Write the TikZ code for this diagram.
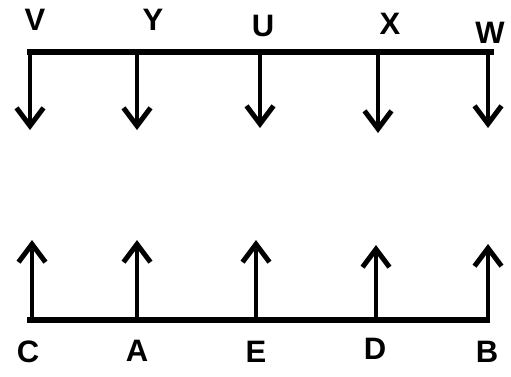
\documentclass[tikz,border=0pt]{standalone}
\usepackage{fontspec}
\setmainfont{Liberation Sans}
\usetikzlibrary{arrows.meta}
\begin{document}
\begin{tikzpicture}[x=1pt,y=-1pt,
  lbl/.style={font=\fontsize{31}{34}\selectfont\bfseries, inner sep=0pt},
  bar/.style={line width=5.5pt},
  arr/.style={line width=4.5pt, -{Straight Barb[length=18pt,width=27pt,line width=5pt]}}]
\useasboundingbox (0,0) rectangle (511,376);
% top line
\coordinate (tl) at (27,52);
\coordinate (tr) at (494,52);
\draw[bar] (tl) -- (tr);
\foreach \n/\x/\e in {v/30/130, y/137/130, u/260/128, x/378/133, w/488/128}{
  \coordinate (\n top) at (\x,52);
  \coordinate (\n tip) at (\x,\e);
  \draw[arr] (\n top) -- (\n tip);
}
% bottom line
\coordinate (bl) at (27,320);
\coordinate (br) at (490,320);
\draw[bar] (bl) -- (br);
\foreach \n/\x/\e in {c/32/240, a/137/240, e/256/240, d/376/245, b/488/244}{
  \coordinate (\n bot) at (\x,320);
  \coordinate (\n tip) at (\x,\e);
  \draw[arr] (\n bot) -- (\n tip);
}
% labels
\node[lbl] (V) at (35,20) {V};
\node[lbl] (Y) at (153,20) {Y};
\node[lbl] (U) at (263,26) {U};
\node[lbl] (X) at (390,24) {X};
\node[lbl] (W) at (490,33) {W};
\node[lbl] (C) at (28,352) {C};
\node[lbl] (A) at (137,351) {A};
\node[lbl] (E) at (256,352) {E};
\node[lbl] (D) at (375,349) {D};
\node[lbl] (B) at (487,352) {B};
\end{tikzpicture}
\end{document}
